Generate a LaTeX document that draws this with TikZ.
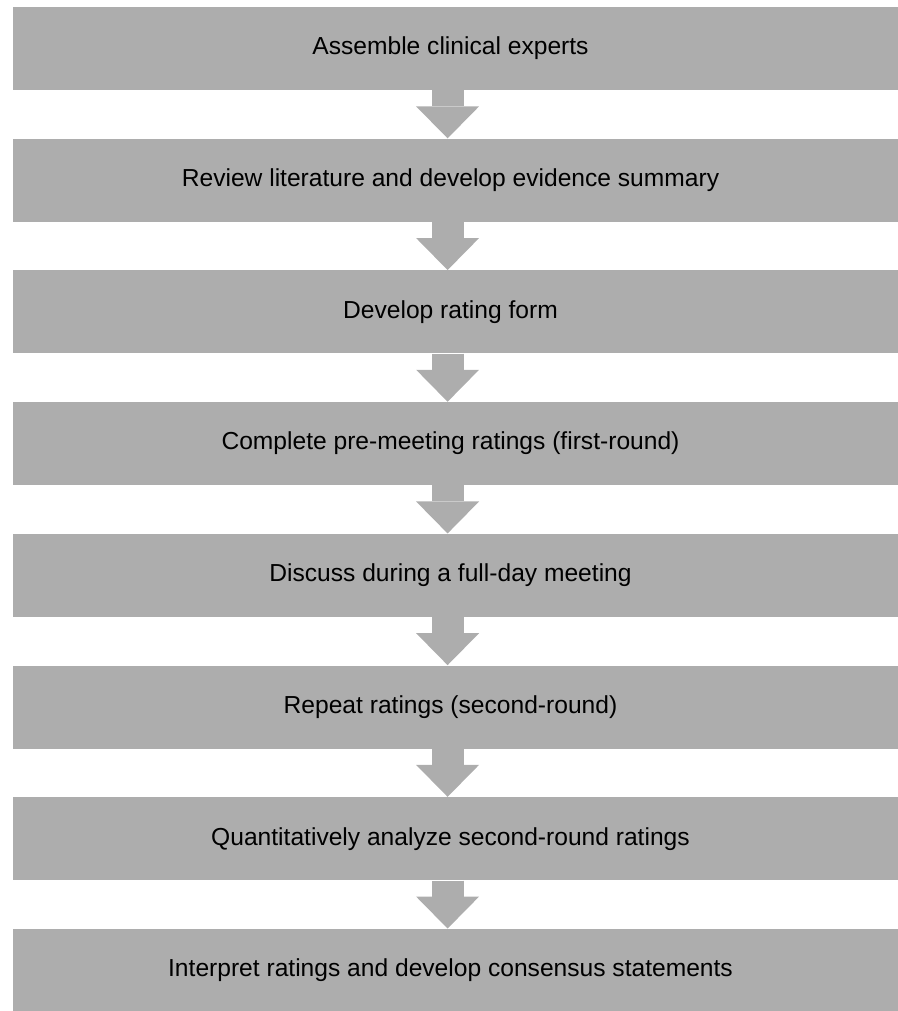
\documentclass[tikz,border=0pt]{standalone}
\usepackage{fontspec}
\setmainfont{Liberation Sans}
\usetikzlibrary{arrows.meta}
\definecolor{boxgray}{RGB}{173,173,173}

\begin{document}
\begin{tikzpicture}[x=0.02cm,y=-0.02cm,
  bx/.style={fill=boxgray,minimum width=17.7cm,minimum height=1.66cm,
    font=\fontsize{14}{16}\selectfont},
  arr/.style={color=boxgray,line width=0.64cm,
    -{Triangle[width=1.26cm,length=0.64cm,line width=0pt]}}]

\useasboundingbox (0,0) rectangle (898,1011);

% steps
\node[bx] (s1) at (455.5,48.5)  {Assemble clinical experts\hspace*{0.2cm}};
\node[bx] (s2) at (455.5,180.2) {Review literature and develop evidence summary\hspace*{0.2cm}};
\node[bx] (s3) at (455.5,311.9) {Develop rating form\hspace*{0.2cm}};
\node[bx] (s4) at (455.5,443.6) {Complete pre-meeting ratings (first-round)\hspace*{0.2cm}};
\node[bx] (s5) at (455.5,575.3) {Discuss during a full-day meeting\hspace*{0.2cm}};
\node[bx] (s6) at (455.5,707.0) {Repeat ratings (second-round)\hspace*{0.2cm}};
\node[bx] (s7) at (455.5,838.7) {Quantitatively analyze second-round ratings\hspace*{0.2cm}};
\node[bx] (s8) at (455.5,970.4) {Interpret ratings and develop consensus statements\hspace*{0.2cm}};

% block arrows
\foreach \a/\b in {s1/s2,s2/s3,s3/s4,s4/s5,s5/s6,s6/s7,s7/s8}
  \draw[arr] ([xshift=-4.5]\a.south) -- ([xshift=-4.5]\b.north);
\end{tikzpicture}
\end{document}
